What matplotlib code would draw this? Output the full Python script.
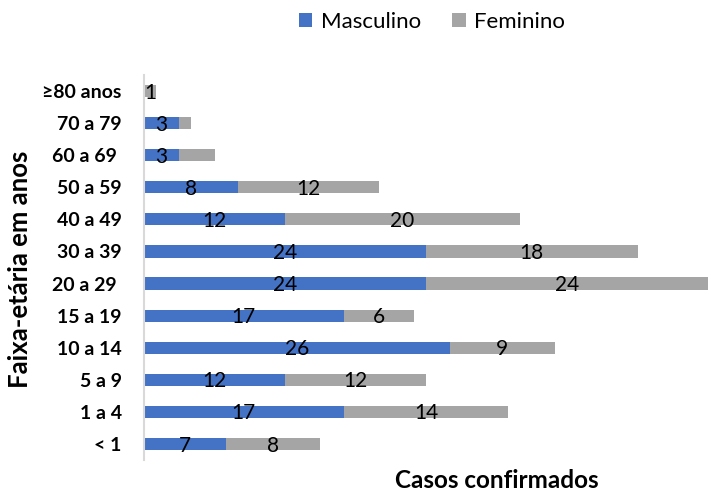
import matplotlib
matplotlib.use("Agg")
import matplotlib.pyplot as plt
import numpy as np

categories = ["≥80 anos", "70 a 79", "60 a 69 ", "50 a 59", "40 a 49", "30 a 39",
              "20 a 29 ", "15 a 19", "10 a 14", "5 a 9", "1 a 4", "< 1"]
masculino = [0, 3, 3, 8, 12, 24, 24, 17, 26, 12, 17, 7]
feminino = [1, 1, 3, 12, 20, 18, 24, 6, 9, 12, 14, 8]
masc_labels = ["", "3", "3", "8", "12", "24", "24", "17", "26", "12", "17", "7"]
fem_labels = ["1", "", "", "12", "20", "18", "24", "6", "9", "12", "14", "8"]

plt.rcParams['font.family'] = ['Lato', 'DejaVu Sans']

fig = plt.figure(figsize=(7.08, 4.92), dpi=100)
ax = fig.add_axes([144/708, 32/492, 564/708, 385/492])

blue = "#4472C4"
gray = "#A5A5A5"
y = np.arange(len(categories))
h = 0.38
ax.barh(y, masculino, height=h, color=blue, label="Masculino")
ax.barh(y, feminino, left=masculino, height=h, color=gray, label="Feminino")

for i in range(len(categories)):
    if masc_labels[i]:
        ax.text(masculino[i] / 2, y[i] + 0.05, masc_labels[i], ha="center", va="center",
                fontsize=15, color="black")
    if fem_labels[i]:
        ax.text(masculino[i] + feminino[i] / 2, y[i] + 0.05, fem_labels[i], ha="center",
                va="center", fontsize=15, color="black")

ax.set_xlim(0, 48)
ax.set_ylim(len(categories) - 0.5, -0.5)
ax.set_yticks(y)
ax.set_yticklabels(categories, fontsize=14, fontweight="bold")
ax.tick_params(axis="y", length=0, pad=16)
ax.set_xticks([])
for s in ["top", "right", "bottom"]:
    ax.spines[s].set_visible(False)
ax.spines["left"].set_color("#D9D9D9")
ax.spines["left"].set_linewidth(1.5)

fig.text(497/708, 1 - 480/492, "Casos confirmados", ha="center", va="center",
         fontsize=17.5, fontweight="bold")
fig.text(20/708, 1 - 269/492, "Faixa-etária em anos", ha="center", va="center",
         fontsize=18.5, fontweight="bold", rotation=90)

fig.legend(loc="center", bbox_to_anchor=(432/708, 1 - 22/492), ncol=2, frameon=False,
           fontsize=16, handlelength=0.6, handleheight=0.6, columnspacing=1.4,
           handletextpad=0.4)

fig.savefig("out.png", dpi=100)
